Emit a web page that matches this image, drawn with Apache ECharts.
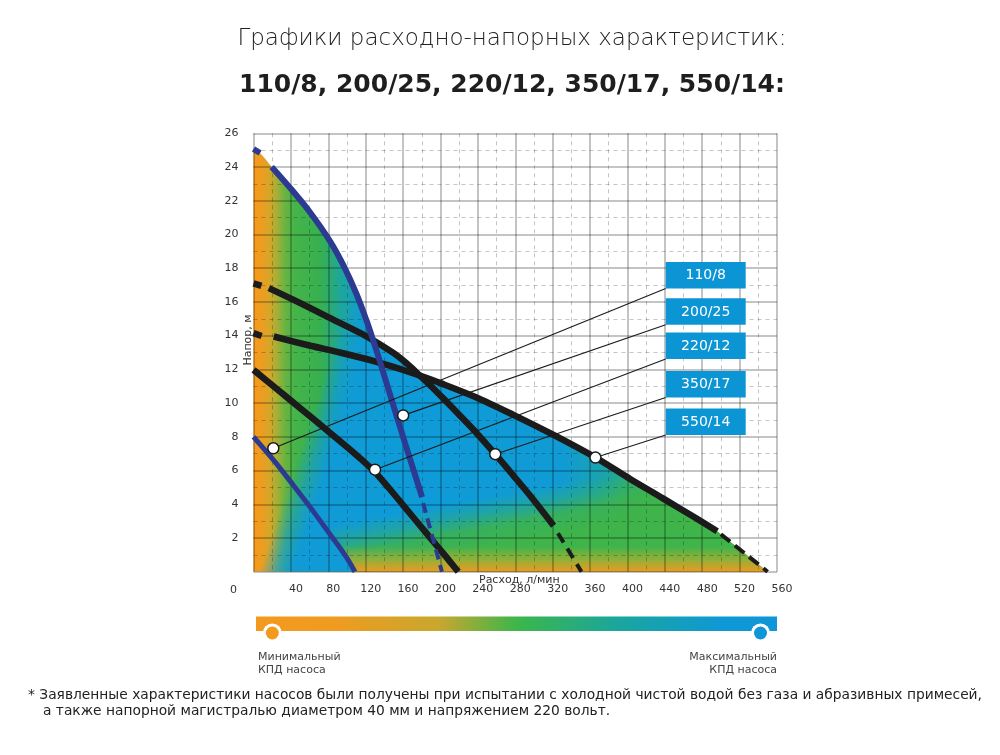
<!DOCTYPE html>
<html lang="ru">
<head>
<meta charset="utf-8">
<title>Графики расходно-напорных характеристик</title>
<script src="https://cdn.jsdelivr.net/npm/echarts@6.0.0/dist/echarts.min.js"></script>
<style>
    html, body { margin: 0; padding: 0; background: #fff; }
    #chart { width: 1000px; height: 755px; }
</style>
</head>
<body>
<div id="chart"></div>
<script>
// pump models, in the order of the callout boxes
var pumpNames = ['110/8', '200/25', '220/12', '350/17', '550/14'];

// head curves, [flow l/min, head m]
var head110 = [[0, 8.0], [21.7, 6.6], [43, 5.1], [61, 3.8], [78.8, 2.45], [97.8, 1.0], [108.5, 0]];

var head200Start = [[0, 25.07], [7, 24.83]];
var head200 = [[19.5, 24.0], [40.9, 22.65], [60.4, 21.32], [81.8, 19.61], [96.1, 18.18], [110.4, 16.44],
    [121.1, 14.86], [128, 13.73], [131.8, 13.08], [142, 11.24], [152, 9.44], [162, 7.64], [172, 5.89], [180.3, 4.42]];
var head200Tail = [[181.5, 4.06], [201.6, 0]];

var head220 = [[0, 11.97], [25, 10.83], [50, 9.7], [75, 8.55], [100, 7.4], [115, 6.68], [130, 5.9],
    [145, 4.95], [160, 3.95], [175, 2.95], [190, 1.95], [205, 0.95], [219, 0]];

var head350Start = [[0, 17.1], [8.5, 16.95]];
var head350 = [[16.4, 16.82], [43, 16.12], [78.8, 15.13], [114.5, 14.15], [128, 13.73], [150, 12.96],
    [163.7, 12.36], [178, 11.63], [190, 11.0], [203.5, 10.25], [221, 9.25], [239, 8.2], [258.6, 6.97],
    [278, 5.7], [296, 4.5], [321, 2.73]];
var head350Tail = [[325.7, 2.28], [350.8, 0]];

var head550Start = [[0, 14.15], [8.7, 13.98]];
var head550 = [[21.7, 13.95], [61, 13.4], [92.4, 13.0], [128, 12.5], [163.7, 11.9], [178, 11.63],
    [199.3, 11.2], [238, 10.35], [278, 9.3], [321, 8.11], [365.8, 6.77], [402.9, 5.5], [438, 4.35],
    [474, 3.15], [496, 2.4]];
var head550Tail = [[500, 2.22], [550, 0]];

// white dots the callout lines point at
var calloutPoints = [[21.2, 7.32], [160.1, 9.27], [130, 6.05], [258.6, 6.97], [365.8, 6.77]];

var flowMax = 560, flowStep = 40;
var headMax = 26, headStep = 2;

var FONT = 'DejaVu Sans';
var BLUE_CURVE = '#2c3a92';
var BLACK_CURVE = '#1b1b1b';
var GRID = 'rgba(0,0,0,0.23)';

var boxLeft = 665.7, boxW = 80, boxH = 26.5;
var boxTops = [262, 298.3, 332.5, 371, 408.5];

var chart = echarts.init(document.getElementById('chart'));

function between(arr, x0, x1) {
    return arr.filter(function (p) { return p[0] >= x0 && p[0] <= x1; });
}

// outline of the coloured field: top of all the curves
var envelope = head200Start
    .concat(between(head200, 0, 128))
    .concat(between(head350, 128.5, 177.9))
    .concat(between(head550, 178, 1000))
    .concat(head550Tail);
var wedge = head200Start.concat(between(head200, 0, 128));
var bandTop = 5.6;
var band = head110.filter(function (p) { return p[1] <= bandTop; }).reverse()
    .concat(head550.filter(function (p) { return p[1] <= bandTop; }))
    .concat(head550Tail);

var axisLabelStyle = { color: '#333', fontSize: 11, fontFamily: FONT };

chart.setOption({
    animation: false,
    grid: { left: 253.5, right: 223, top: 133.3, bottom: 183.3, containLabel: false },
    xAxis: {
        type: 'value', min: 0, max: flowMax, interval: flowStep, z: 3,
        axisLine: { show: false }, axisTick: { show: false },
        axisLabel: Object.assign({ showMinLabel: false, margin: 12, padding: [0, 0, 0, 10] }, axisLabelStyle),
        splitLine: { show: true, lineStyle: { color: GRID, width: 2 } },
        minorTick: { show: false, splitNumber: 2 },
        minorSplitLine: { show: true, lineStyle: { color: GRID, width: 1, type: [4, 4] } }
    },
    yAxis: {
        type: 'value', min: 0, max: headMax, interval: headStep, z: 3,
        axisLine: { show: false }, axisTick: { show: false },
        axisLabel: Object.assign({ showMinLabel: false, margin: 15 }, axisLabelStyle),
        splitLine: { show: true, lineStyle: { color: GRID, width: 2 } },
        minorTick: { show: false, splitNumber: 2 },
        minorSplitLine: { show: true, lineStyle: { color: GRID, width: 1, type: [4, 4] } }
    }
});

function px(p) { return chart.convertToPixel({ gridIndex: 0 }, p); }
function grad(a, b, stops) { return new echarts.graphic.LinearGradient(a[0], a[1], b[0], b[1], stops, true); }
function normalOf(a, b) {
    var dx = b[0] - a[0], dy = b[1] - a[1], l = Math.sqrt(dx * dx + dy * dy);
    return [-dy / l, dx / l];
}
function shift(p, n, d) { return [p[0] + n[0] * d, p[1] + n[1] * d]; }

// base field, orange at both ends, blue in the middle
var baseFill = grad(px([0, 0]), px([550, 0]), [
    { offset: 0, color: '#f39a1e' }, { offset: 0.012, color: '#f19b1f' },
    { offset: 0.03, color: '#d9a528' }, { offset: 0.045, color: '#a8af36' },
    { offset: 0.06, color: '#6db441' }, { offset: 0.08, color: '#45b44a' },
    { offset: 0.13, color: '#37b04f' }, { offset: 0.17, color: '#1ea69c' },
    { offset: 0.215, color: '#139dcb' }, { offset: 0.25, color: '#0f9bd8' },
    { offset: 0.6, color: '#109bd5' }, { offset: 0.68, color: '#1aa3ad' },
    { offset: 0.76, color: '#38b25a' }, { offset: 0.84, color: '#6db644' },
    { offset: 0.92, color: '#c3a930' }, { offset: 1, color: '#f2951f' }
]);

// blue wedge near the origin
var w1 = px([15, 0]), w2 = px([75, 10]), wn = normalOf(w1, w2);
var wedgeFill = grad(shift(w1, wn, -8), shift(w1, wn, 24), [
    { offset: 0, color: 'rgba(16,155,214,0)' }, { offset: 0.5, color: 'rgba(16,155,214,0.6)' },
    { offset: 1, color: 'rgba(16,155,214,1)' }
]);

// green band along the bottom
var g1 = px([130, 3.2]), g2 = px([400, 6.0]), gn = normalOf(g1, g2);
if (gn[1] < 0) { gn = [-gn[0], -gn[1]]; }
var bandGreen = grad(g1, shift(g1, gn, 50), [
    { offset: 0, color: 'rgba(62,180,74,0)' }, { offset: 0.3, color: 'rgba(62,180,74,0.35)' },
    { offset: 0.6, color: 'rgba(62,180,74,0.85)' }, { offset: 1, color: 'rgba(62,180,74,1)' }
]);

// orange strip on the flow axis
var bandOrange = grad(px([0, 1.5]), px([0, 0]), [
    { offset: 0, color: 'rgba(235,165,35,0)' }, { offset: 0.45, color: 'rgba(205,175,45,0.5)' },
    { offset: 1, color: 'rgba(243,150,30,1)' }
]);

function fill(data, color, smooth) {
    return {
        type: 'line', data: data, smooth: smooth, symbol: 'none', silent: true, z: 1,
        lineStyle: { width: 0, opacity: 0 }, areaStyle: { color: color, opacity: 1 }
    };
}

function curve(data, color, width, dash) {
    return {
        type: 'line', data: data, smooth: 0.3, symbol: 'none', silent: true, z: 5,
        lineStyle: { color: color, width: width, type: dash || 'solid' }
    };
}

var series = [
    fill(envelope, baseFill, 0.3),
    fill(wedge, wedgeFill, 0.3),
    fill(band, bandGreen, false),
    fill(band, bandOrange, false),

    curve(head220, BLACK_CURVE, 6.5),
    curve(head350Start, BLACK_CURVE, 6.5),
    curve(head350, BLACK_CURVE, 6.5),
    curve(head350Tail, BLACK_CURVE, 4, [11, 7]),
    curve(head550Start, BLACK_CURVE, 6.5),
    curve(head550, BLACK_CURVE, 6.5),
    curve(head550Tail, BLACK_CURVE, 4, [12, 6]),
    curve(head110, BLUE_CURVE, 5),
    curve(head200Start, BLUE_CURVE, 6),
    curve(head200, BLUE_CURVE, 6),
    curve(head200Tail, BLUE_CURVE, 4, [10, 6]),

    {
        type: 'scatter', data: calloutPoints, symbol: 'circle', symbolSize: 11, silent: true, z: 8,
        itemStyle: { color: '#fff', borderColor: BLACK_CURVE, borderWidth: 1.5, opacity: 1 }
    }
];

function text(x, y, str, font, opts) {
    return {
        type: 'text', z: 10, silent: true,
        style: Object.assign({
            text: str, x: x, y: y, font: font, fill: '#333',
            align: 'left', textAlign: 'left', verticalAlign: 'middle', textVerticalAlign: 'middle'
        }, opts || {})
    };
}

var graphics = [
    text(512, 39, 'Графики расходно-напорных характеристик:', '200 23px "DejaVu Sans"',
        { align: 'center', textAlign: 'center', fill: '#222' }),
    text(512, 85.5, pumpNames.join(', ') + ':', '600 25px "DejaVu Sans"',
        { align: 'center', textAlign: 'center', fill: '#1e1e1e' }),
    text(233.5, 590, '0', '11px "DejaVu Sans"', { align: 'center', textAlign: 'center' }),
    text(479, 580, 'Расход, л/мин', '11px "DejaVu Sans"'),
    {
        type: 'text', z: 10, silent: true, x: 248, y: 340, rotation: Math.PI / 2,
        style: {
            text: 'Напор, м', font: '11px "DejaVu Sans"', fill: '#333',
            align: 'center', textAlign: 'center', verticalAlign: 'middle', textVerticalAlign: 'middle'
        }
    },
    text(28, 695, '* Заявленные характеристики насосов были получены при испытании с холодной чистой водой без газа и абразивных примесей,',
        '13.8px "DejaVu Sans"', { fill: '#222' }),
    text(43, 711, 'а также напорной магистралью диаметром 40 мм и напряжением 220 вольт.',
        '13.8px "DejaVu Sans"', { fill: '#222' })
];

// efficiency colour bar
graphics.push({
    type: 'rect', z: 10, silent: true,
    shape: { x: 256, y: 616.5, width: 521, height: 14.5 },
    style: {
        fill: new echarts.graphic.LinearGradient(0, 0, 1, 0, [
            { offset: 0, color: '#f39a1e' }, { offset: 0.15, color: '#ef9b20' },
            { offset: 0.35, color: '#c9a72f' }, { offset: 0.5, color: '#3db64a' },
            { offset: 0.7, color: '#1aa59f' }, { offset: 0.9, color: '#0f98d6' },
            { offset: 1, color: '#0e96d8' }
        ])
    }
});
[[272.3, '#f39a1e'], [760.5, '#0e96d8']].forEach(function (c) {
    graphics.push({ type: 'circle', z: 11, silent: true, shape: { cx: c[0], cy: 633, r: 9.5 }, style: { fill: '#fff' } });
    graphics.push({ type: 'circle', z: 12, silent: true, shape: { cx: c[0], cy: 633, r: 6.5 }, style: { fill: c[1] } });
});
graphics.push(text(258, 651, 'Минимальный\nКПД насоса', '11px "DejaVu Sans"',
    { verticalAlign: 'top', textVerticalAlign: 'top', lineHeight: 13, fill: '#444' }));
graphics.push(text(777, 651, 'Максимальный\nКПД насоса', '11px "DejaVu Sans"',
    { verticalAlign: 'top', textVerticalAlign: 'top', lineHeight: 13, fill: '#444', align: 'right', textAlign: 'right' }));

// callout boxes and their leader lines
pumpNames.forEach(function (name, i) {
    var top = boxTops[i];
    var dot = px(calloutPoints[i]);
    graphics.push({
        type: 'line', z: 7, silent: true,
        shape: { x1: dot[0], y1: dot[1], x2: boxLeft, y2: top + boxH },
        style: { stroke: BLACK_CURVE, lineWidth: 1.1 }
    });
    graphics.push({
        type: 'rect', z: 10, silent: true,
        shape: { x: boxLeft, y: top, width: boxW, height: boxH },
        style: { fill: '#0c95d4' }
    });
    graphics.push(text(boxLeft + boxW / 2, top + boxH / 2 + 0.5, name, '14px "DejaVu Sans"',
        { fill: '#fff', align: 'center', textAlign: 'center' }));
});

chart.setOption({ series: series, graphic: { elements: graphics } });
</script>
</body>
</html>
